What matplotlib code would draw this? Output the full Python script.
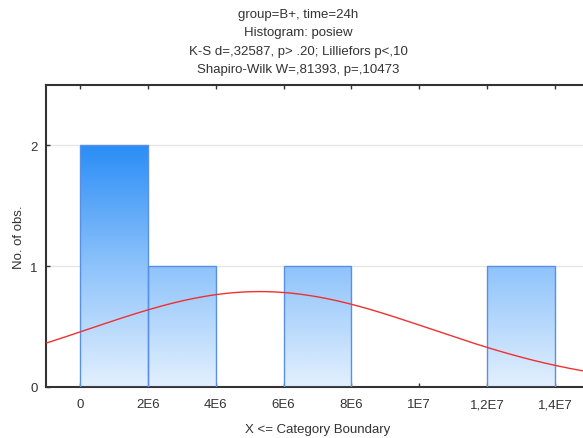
"""Histogram of posiew (group=B+, time=24h) with fitted normal curve."""

import matplotlib
matplotlib.use("Agg")
import matplotlib.pyplot as plt
import numpy as np
from matplotlib.colors import LinearSegmentedColormap
from matplotlib.patches import Rectangle

plt.rcParams["font.family"] = ["Liberation Sans", "DejaVu Sans"]

# bin upper boundaries and counts (X <= boundary)
bin_edges = [0, 2e6, 4e6, 6e6, 8e6, 1e7, 1.2e7, 1.4e7]
counts = [2, 1, 0, 1, 0, 0, 1]
n_obs = 5
fit_mean = 5.3e6
fit_sd = 5.05e6

title_lines = [
    "group=B+, time=24h",
    "Histogram: posiew",
    "K-S d=,32587, p> .20; Lilliefors p<,10",
    "Shapiro-Wilk W=,81393, p=,10473",
]
xtick_vals = [0, 2e6, 4e6, 6e6, 8e6, 1e7, 1.2e7, 1.4e7]
xtick_labels = ["0", "2E6", "4E6", "6E6", "8E6", "1E7", "1,2E7", "1,4E7"]

TXT = "#333333"

fig = plt.figure(figsize=(5.83, 4.39), dpi=100)
ax = fig.add_axes([46 / 583, 51 / 439, (589 - 46) / 583, (388 - 86) / 439])
ax.set_xlim(-1e6, 1.5e7)
ax.set_ylim(0, 2.5)

ax.grid(True, axis="y", color="#e6e6e6", linewidth=1)
ax.set_axisbelow(True)

cmap = LinearSegmentedColormap.from_list("bars", ["#e3f0fe", "#8ec3fb", "#2a8df6"])
grad = np.linspace(0, 1, 256).reshape(-1, 1)
for left, right, c in zip(bin_edges[:-1], bin_edges[1:], counts):
    if c == 0:
        continue
    im = ax.imshow(grad, extent=(left, right, 0, 2), origin="lower",
                   cmap=cmap, aspect="auto", zorder=2)
    rect = Rectangle((left, 0), right - left, c, facecolor="none",
                     edgecolor="#5a8fe6", linewidth=1, zorder=3)
    ax.add_patch(rect)
    im.set_clip_path(rect)

xs = np.linspace(-1e6, 1.5e7, 400)
bw = bin_edges[1] - bin_edges[0]
ys = n_obs * bw / (fit_sd * np.sqrt(2 * np.pi)) * np.exp(-0.5 * ((xs - fit_mean) / fit_sd) ** 2)
ax.plot(xs, ys, color="#f03030", linewidth=1, zorder=4)

ax.set_xticks(xtick_vals)
ax.set_xticklabels(xtick_labels)
ax.set_yticks([0, 1, 2])
ax.tick_params(direction="in", top=True, length=3, width=1, colors="#333333",
               labelcolor=TXT, labelsize=9.5, pad=8)
ax.tick_params(axis="y", pad=6)
for s in ax.spines.values():
    s.set_color("#333333")
    s.set_linewidth(1.5)

ax.set_xlabel("X <= Category Boundary", fontsize=9.5, labelpad=9, color=TXT)
ax.set_ylabel("No. of obs.", fontsize=9.5, labelpad=4, color=TXT)

for i, line in enumerate(title_lines):
    fig.text(298 / 583, 1 - (15 + 18.4 * i) / 439, line, ha="center", va="center",
             fontsize=9.5, color=TXT)

fig.savefig("out.png", dpi=100)
